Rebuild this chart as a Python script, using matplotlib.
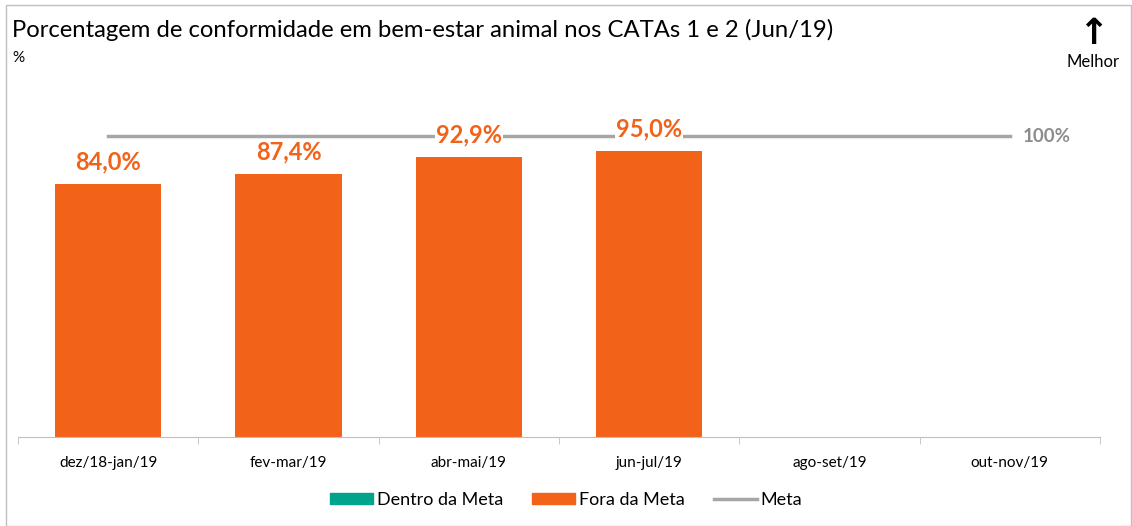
import matplotlib.pyplot as plt
import matplotlib.patches as mpatches
import matplotlib.lines as mlines
import numpy as np

plt.rcParams['font.family'] = ['Lato', 'DejaVu Sans']

categorias = ["dez/18-jan/19", "fev-mar/19", "abr-mai/19", "jun-jul/19", "ago-set/19", "out-nov/19"]
fora_meta = [84.0, 87.4, 92.9, 95.0, np.nan, np.nan]
dentro_meta = [np.nan] * 6
meta = [100, 100, 100, 100, 100, 100]
rotulos = ["84,0%", "87,4%", "92,9%", "95,0%"]

laranja = "#F26219"
verde = "#00A38B"
cinza = "#A6A6A6"

fig = plt.figure(figsize=(11.32, 5.26), dpi=100)
ax = fig.add_axes([18 / 1132, 1 - 437 / 526, 1082 / 1132, 331 / 526])

x = np.arange(len(categorias))
ax.bar(x, fora_meta, width=0.59, color=laranja, zorder=2)
ax.bar(x, dentro_meta, width=0.59, color=verde, zorder=2)
ax.plot(x, meta, color=cinza, lw=2.5, zorder=1)

for i, txt in enumerate(rotulos):
    ax.text(x[i], fora_meta[i] + 3.6, txt, ha="center", va="bottom",
            color=laranja, fontsize=17, fontweight="bold", zorder=3,
            bbox=dict(facecolor="white", edgecolor="none", pad=0.5))
ax.text(x[-1] + 0.07, meta[-1], "100%", ha="left", va="center",
        color="#8C8C8C", fontsize=13.5, fontweight="bold", zorder=3,
        bbox=dict(facecolor="white", edgecolor="none", pad=2))

ax.set_xlim(-0.5, len(categorias) - 0.5)
ax.set_ylim(0, 110)
ax.set_yticks([])
for s in ["left", "right", "top"]:
    ax.spines[s].set_visible(False)
ax.spines["bottom"].set_color("#BFBFBF")
ax.set_xticks(x)
ax.set_xticklabels(categorias, fontsize=11)
ax.tick_params(axis="x", length=0, pad=14)
ax.set_xticks(np.arange(-0.5, len(categorias)), minor=True)
ax.tick_params(axis="x", which="minor", length=5, color="#BFBFBF")

fig.text(12 / 1132, 1 - 30 / 526, "Porcentagem de conformidade em bem-estar animal nos CATAs 1 e 2 (Jun/19)",
         fontsize=17.2, va="center", ha="left")
fig.text(12 / 1132, 1 - 58 / 526, "%", fontsize=11, va="center", ha="left")
fig.text(1093 / 1132, 1 - 34 / 526, "↑", fontsize=26, va="center", ha="center",
         family=["DejaVu Sans"], fontweight="bold")
fig.text(1093 / 1132, 1 - 62 / 526, "Melhor", fontsize=12, va="center", ha="center")

fig.patches.append(mpatches.Rectangle((6 / 1132, 0), 1125 / 1132, 1 - 5 / 526,
                                      transform=fig.transFigure, fill=False,
                                      edgecolor="#BFBFBF", lw=1))

handles = [mpatches.Patch(color=verde, label="Dentro da Meta"),
           mpatches.Patch(color=laranja, label="Fora da Meta"),
           mlines.Line2D([], [], color=cinza, lw=2.5, label="Meta")]
fig.legend(handles=handles, loc="center", bbox_to_anchor=(0.5, 1 - 500 / 526),
           ncol=3, frameon=False, fontsize=13, handlelength=2.4,
           handleheight=0.6, columnspacing=1.6, handletextpad=0.2)

fig.savefig("out.png", dpi=100)
